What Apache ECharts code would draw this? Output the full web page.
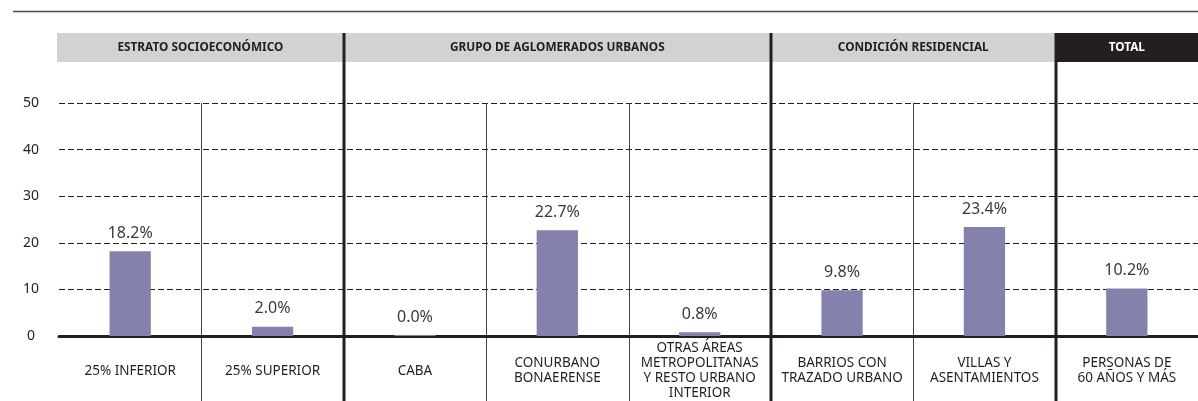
<!DOCTYPE html>
<html lang="es">
<head>
    <meta charset="UTF-8">
    <title>Personas de 60 años y más</title>
    <style>
        * { box-sizing: border-box; margin: 0; padding: 0; }
        body { background: #ffffff; }
        #chart { width: 1198px; height: 401px; }
    </style>
    <script src="https://cdn.jsdelivr.net/npm/echarts@6/dist/echarts.min.js"></script>
</head>
<body>
    <div id="chart"></div>

    <script>
        // datos
        const categories = [
            '25% INFERIOR',
            '25% SUPERIOR',
            'CABA',
            'CONURBANO\nBONAERENSE',
            'OTRAS ÁREAS\nMETROPOLITANAS\nY RESTO URBANO\nINTERIOR',
            'BARRIOS CON\nTRAZADO URBANO',
            'VILLAS Y\nASENTAMIENTOS',
            'PERSONAS DE\n60 AÑOS Y MÁS'
        ];
        const values = [18.2, 2.0, 0.0, 22.7, 0.8, 9.8, 23.4, 10.2];
        const groupNames = ['ESTRATO SOCIOECONÓMICO', 'GRUPO DE AGLOMERADOS URBANOS', 'CONDICIÓN RESIDENCIAL', 'TOTAL'];
        const groupSizes = [2, 3, 2, 1];
        const yTicks = [0, 10, 20, 30, 40, 50];

        const FONT = '"Noto Sans", sans-serif';
        const INK = '#231f20';

        const chart = echarts.init(document.getElementById('chart'));
        chart.setOption({
            animation: false,
            grid: { left: 59, right: 0, top: 103, bottom: 63 },
            xAxis: {
                type: 'category',
                data: categories,
                axisTick: { show: false },
                axisLine: { lineStyle: { color: INK, width: 3 } },
                axisLabel: {
                    interval: 0,
                    margin: 35,
                    verticalAlign: 'middle',
                    fontFamily: FONT,
                    fontSize: 13.5,
                    lineHeight: 15,
                    color: INK
                }
            },
            yAxis: {
                type: 'value',
                min: yTicks[0],
                max: yTicks[yTicks.length - 1],
                interval: yTicks[1] - yTicks[0],
                axisLine: { show: false },
                axisTick: { show: false },
                axisLabel: {
                    align: 'center',
                    margin: 28,
                    verticalAlign: 'middle',
                    padding: [0, 0, 10, 0],
                    fontFamily: FONT,
                    fontSize: 14,
                    color: INK
                },
                splitLine: {
                    lineStyle: { color: INK, width: 1, type: [6, 3] }
                }
            },
            series: [{
                type: 'bar',
                data: values,
                barWidth: '29%',
                barMinHeight: 1,
                itemStyle: { color: '#8581ad' },
                label: {
                    show: true,
                    position: 'top',
                    distance: 10,
                    fontFamily: FONT,
                    fontSize: 16,
                    color: '#3a3a3a',
                    formatter: p => p.value.toFixed(1) + '%'
                }
            }]
        });

        // separadores y encabezados calculados desde el eje
        const x0 = chart.convertToPixel({ xAxisIndex: 0 }, categories[0]);
        const x1 = chart.convertToPixel({ xAxisIndex: 0 }, categories[1]);
        const bw = x1 - x0;
        const edge = i => x0 - bw / 2 + i * bw;
        const yTop = chart.convertToPixel({ yAxisIndex: 0 }, yTicks[yTicks.length - 1]);
        const H = chart.getHeight();
        const W = chart.getWidth();

        const graphics = [];
        // filete superior
        graphics.push({
            type: 'line', silent: true,
            shape: { x1: 13, y1: 11.5, x2: W, y2: 11.5 },
            style: { stroke: '#4d4d4d', lineWidth: 1.5 }
        });

        let start = 0;
        groupSizes.forEach((n, g) => {
            const isTotal = g === groupSizes.length - 1;
            const left = g === 0 ? edge(0) - 2 : edge(start);
            const right = isTotal ? W : edge(start + n);
            graphics.push({
                type: 'rect', silent: true,
                shape: { x: left, y: 33, width: right - left, height: 29 },
                style: { fill: isTotal ? INK : '#d1d2d4' }
            });
            graphics.push({
                type: 'text', silent: true,
                x: (left + right) / 2, y: 48,
                style: {
                    text: groupNames[g],
                    align: 'center', verticalAlign: 'middle',
                    font: 'bold 11.8px ' + FONT,
                    fill: isTotal ? '#ffffff' : INK
                }
            });
            // lineas finas dentro del grupo
            for (let k = 1; k < n; k++) {
                const xe = Math.round(edge(start + k)) + 0.5;
                graphics.push({
                    type: 'line', silent: true,
                    shape: { x1: xe, y1: yTop, x2: xe, y2: H },
                    style: { stroke: '#444', lineWidth: 1 }
                });
            }
            // linea gruesa al final del grupo
            if (!isTotal) {
                const xe = Math.round(edge(start + n));
                graphics.push({
                    type: 'line', silent: true, z: 10,
                    shape: { x1: xe, y1: 33, x2: xe, y2: H },
                    style: { stroke: INK, lineWidth: 3 }
                });
            }
            start += n;
        });

        chart.setOption({ graphic: graphics });
    </script>
</body>
</html>
